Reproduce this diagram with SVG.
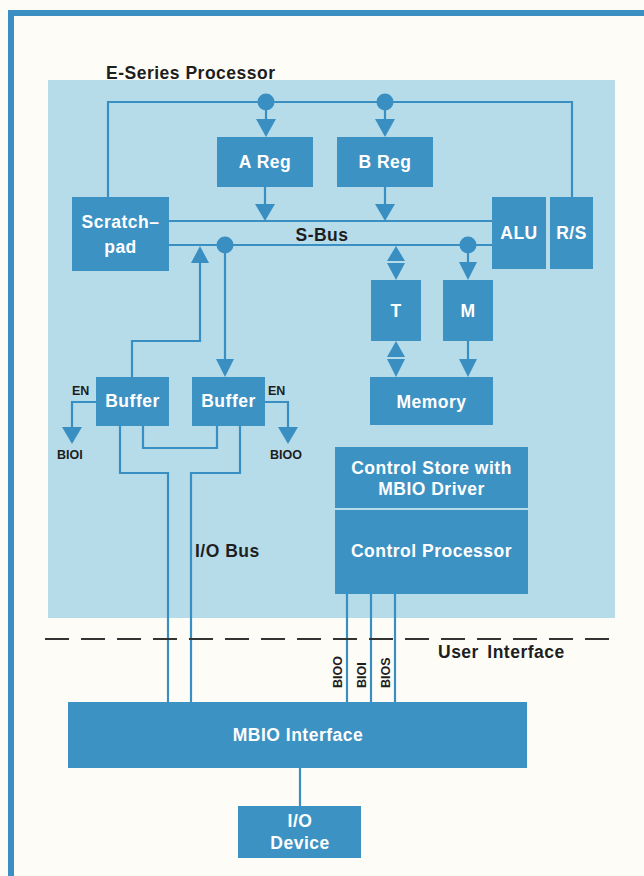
<svg xmlns="http://www.w3.org/2000/svg" width="644" height="876" viewBox="0 0 644 876">
<defs>
<style>
.box{fill:#3d92c4}
.bt{font-family:"Liberation Sans",Arial,sans-serif;font-weight:bold;font-size:17.5px;fill:#ffffff;text-anchor:middle;letter-spacing:0.5px}
.lb{font-family:"Liberation Sans",Arial,sans-serif;font-weight:bold;font-size:17.5px;fill:#1e1e1e;letter-spacing:0.5px}
.sm{font-family:"Liberation Sans",Arial,sans-serif;font-weight:bold;font-size:12.5px;fill:#1e1e1e}
.w{fill:none;stroke:#3a8fc2;stroke-width:2.2}
.ah{fill:#3a8fc2}
</style>
</defs>
<rect x="0" y="0" width="644" height="876" fill="#fdfcf7"/>
<path d="M11,876 V13 H644" fill="none" stroke="#3b8fc2" stroke-width="6"/>
<rect id="panel" x="48" y="80" width="567" height="538" fill="#b6dcea"/>
<text class="lb" x="106" y="79">E-Series Processor</text>

<g id="connectors">
<path class="w" d="M108,197 V102 H572 V197"/>
<circle class="ah" cx="266" cy="102" r="8.5"/>
<circle class="ah" cx="385" cy="102" r="8.5"/>
<path class="w" d="M266,102 V120 M385,102 V120"/>
<polygon class="ah" points="256,119 276,119 266,137"/>
<polygon class="ah" points="375,119 395,119 385,137"/>
<path class="w" d="M265,187 V205 M385,187 V205"/>
<polygon class="ah" points="255,204 275,204 265,221"/>
<polygon class="ah" points="375,204 395,204 385,221"/>
<path class="w" d="M169,221 H492 M169,245 H492"/>
<circle class="ah" cx="225" cy="245" r="8.5"/>
<circle class="ah" cx="468" cy="245" r="8.5"/>
<polygon class="ah" points="191,263 209,263 200,246"/>
<path class="w" d="M200,263 V341 H132 V377"/>
<path class="w" d="M225,245 V360"/>
<polygon class="ah" points="216,359 234,359 225,377"/>
<polygon class="ah" points="387,261 405,261 396,246"/>
<polygon class="ah" points="387,263 405,263 396,280"/>
<path class="w" d="M468,245 V263"/>
<polygon class="ah" points="459,262 477,262 468,280"/>
<polygon class="ah" points="387,357 405,357 396,341"/>
<polygon class="ah" points="387,359 405,359 396,377"/>
<path class="w" d="M468,341 V360"/>
<polygon class="ah" points="459,359 477,359 468,377"/>
<path class="w" d="M96,402 H72 V428"/>
<polygon class="ah" points="62,427 82,427 72,444"/>
<path class="w" d="M265,402 H288 V428"/>
<polygon class="ah" points="278,427 298,427 288,444"/>
<path class="w" d="M120,426 V473 H168 V702"/>
<path class="w" d="M143,426 V448 H217 V426"/>
<path class="w" d="M240,426 V473 H191 V702"/>
<path class="w" d="M347,594 V702 M371,594 V702 M395,594 V702"/>
<path class="w" d="M300,768 V806"/>
</g>

<path d="M45,639 H612" fill="none" stroke="#333333" stroke-width="2.2" stroke-dasharray="24 12"/>

<g id="areg"><rect class="box" x="217" y="137" width="96" height="50"/><text class="bt" x="265" y="168">A Reg</text></g>
<g id="breg"><rect class="box" x="337" y="137" width="96" height="50"/><text class="bt" x="385" y="168">B Reg</text></g>
<g id="scratchpad"><rect class="box" x="72" y="197" width="97" height="74"/><text class="bt" x="120.5" y="228">Scratch–</text><text class="bt" x="120.5" y="253">pad</text></g>
<g id="alu"><rect class="box" x="492" y="197" width="54" height="72"/><text class="bt" x="519" y="239">ALU</text></g>
<g id="rs"><rect class="box" x="550" y="197" width="43" height="72"/><text class="bt" x="571.5" y="239">R/S</text></g>
<g id="t"><rect class="box" x="371" y="280" width="50" height="61"/><text class="bt" x="396" y="317">T</text></g>
<g id="m"><rect class="box" x="443" y="280" width="50" height="61"/><text class="bt" x="468" y="317">M</text></g>
<g id="memory"><rect class="box" x="370" y="377" width="123" height="48"/><text class="bt" x="431.5" y="408">Memory</text></g>
<g id="buffer1"><rect class="box" x="96" y="377" width="73" height="49"/><text class="bt" x="132.5" y="407">Buffer</text></g>
<g id="buffer2"><rect class="box" x="192" y="377" width="73" height="49"/><text class="bt" x="228.5" y="407">Buffer</text></g>
<g id="controlstore"><rect class="box" x="335" y="447" width="193" height="61"/><text class="bt" x="431.5" y="474">Control Store with</text><text class="bt" x="431.5" y="495">MBIO Driver</text></g>
<g id="controlproc"><rect class="box" x="335" y="510" width="193" height="84"/><text class="bt" x="431.5" y="557">Control Processor</text></g>
<g id="mbio"><rect class="box" x="68" y="702" width="459" height="66"/><text class="bt" x="298" y="741">MBIO Interface</text></g>
<g id="iodevice"><rect class="box" x="238" y="806" width="123" height="52"/><text class="bt" x="300" y="827">I/O</text><text class="bt" x="300" y="849">Device</text></g>

<g id="labels">
<text class="lb" x="322" y="241" text-anchor="middle">S-Bus</text>
<text class="sm" x="72" y="395">EN</text>
<text class="sm" x="57" y="459">BIOI</text>
<text class="sm" x="268" y="395">EN</text>
<text class="sm" x="270" y="459">BIOO</text>
<text class="lb" x="195" y="557">I/O Bus</text>
<text class="lb" x="438" y="658" word-spacing="3">User Interface</text>
<text class="sm" transform="translate(342,688) rotate(-90)">BIOO</text>
<text class="sm" transform="translate(366,688) rotate(-90)">BIOI</text>
<text class="sm" transform="translate(390,688) rotate(-90)">BIOS</text>
</g>
</svg>
